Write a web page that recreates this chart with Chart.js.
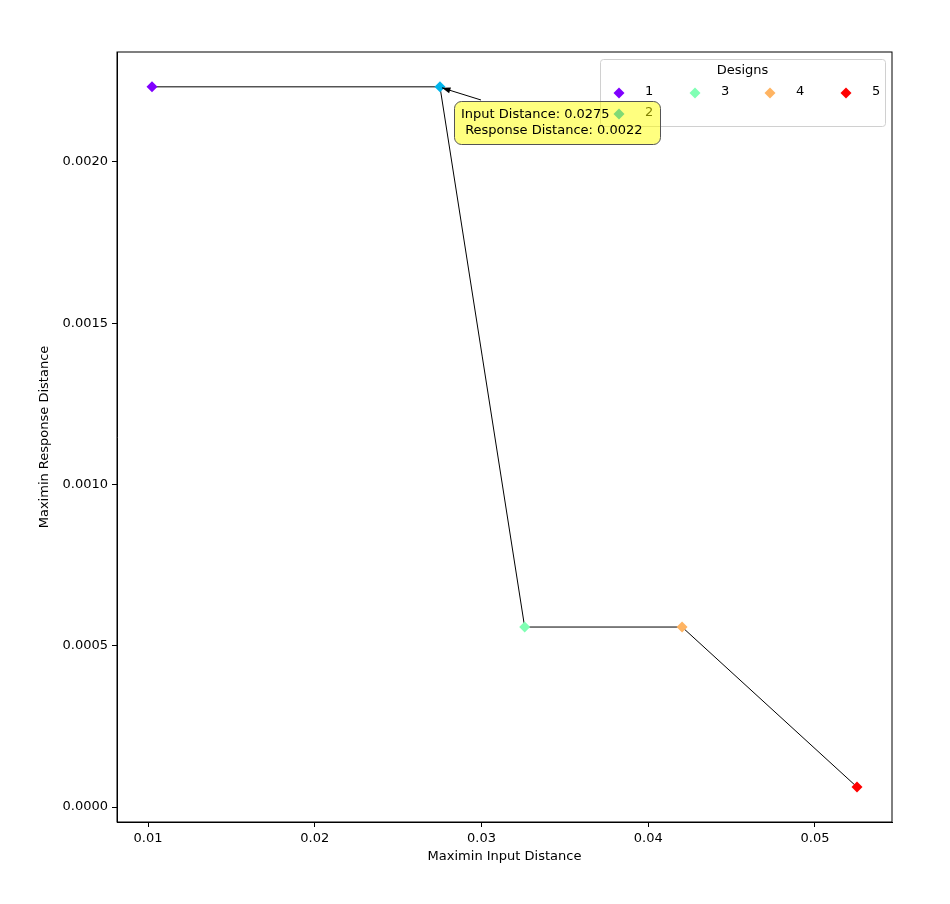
<!DOCTYPE html>
<html>
<head>
<meta charset="utf-8">
<script src="https://cdn.jsdelivr.net/npm/chart.js@4/dist/chart.umd.min.js"></script>
<style>
  body { margin: 0; background: #fff; }
  #wrap { width: 950px; height: 904px; }
</style>
</head>
<body>
<div id="wrap"><canvas id="chart" width="950" height="904"></canvas></div>
<script>
const designs = ['1', '2', '3', '4', '5'];
const inputDist = [0.01024, 0.02751, 0.03259, 0.04203, 0.05252];
const responseDist = [0.002233, 0.002233, 0.000558, 0.000558, 0.000062];
const colors = ['#8000ff', '#00b4eb', '#80ffb4', '#ffb462', '#ff0000'];
const xTicks = [0.01, 0.02, 0.03, 0.04, 0.05];
const yTicks = [0, 0.0005, 0.001, 0.0015, 0.002];
const xTitle = 'Maximin Input Distance';
const yTitle = 'Maximin Response Distance';
const highlight = 1;

const FONT = 'DejaVu Sans';
Chart.defaults.font.family = FONT;
Chart.defaults.font.size = 13;
Chart.defaults.color = '#000';

function diamond(ctx, x, y, r, fill) {
    ctx.beginPath();
    ctx.moveTo(x, y - r); ctx.lineTo(x + r, y); ctx.lineTo(x, y + r); ctx.lineTo(x - r, y);
    ctx.closePath();
    ctx.fillStyle = fill; ctx.fill();
}

// legend box (matplotlib style), axis titles and annotation for the picked point
const overlay = {
    id: 'overlay',
    afterDatasetsDraw(chart) {
        const ctx = chart.ctx;
        const xs = chart.scales.x, ys = chart.scales.y;
        const a = chart.chartArea;
        ctx.save();
        ctx.font = '13px ' + FONT;
        ctx.fillStyle = '#000';
        ctx.textAlign = 'center'; ctx.textBaseline = 'middle';
        // axis titles
        ctx.fillText(xTitle, (a.left + a.right) / 2, 857);
        ctx.save();
        ctx.translate(45, (a.top + a.bottom) / 2);
        ctx.rotate(-Math.PI / 2);
        ctx.fillText(yTitle, 0, 0);
        ctx.restore();
        // legend
        const lx = 600, ly = 59, lw = 285, lh = 67;
        ctx.fillStyle = 'rgba(255,255,255,0.8)';
        ctx.strokeStyle = '#d0d0d0';
        ctx.lineWidth = 1;
        ctx.beginPath(); ctx.roundRect(lx + 0.5, ly + 0.5, lw, lh, 3); ctx.fill(); ctx.stroke();
        ctx.fillStyle = '#000';
        ctx.fillText('Designs', lx + lw / 2, ly + 12);
        const cols = [[0, 1], [2], [3], [4]];
        const colX = [619, 695, 770, 846];
        cols.forEach((items, c) => {
            items.forEach((i, r) => {
                const y = 93 + r * 21;
                diamond(ctx, colX[c], y, 5.5, colors[i]);
                ctx.fillStyle = '#000';
                ctx.textAlign = 'left';
                ctx.fillText(designs[i], colX[c] + 26, y - 1);
            });
        });
        // annotation
        const px = xs.getPixelForValue(inputDist[highlight]);
        const py = ys.getPixelForValue(responseDist[highlight]);
        const bx = 454, by = 101, bw = 206, bh = 43;
        ctx.strokeStyle = '#000'; ctx.lineWidth = 1;
        ctx.beginPath(); ctx.moveTo(481, 100); ctx.lineTo(px + 2, py + 1); ctx.stroke();
        const ang = Math.atan2(py + 1 - 100, px + 2 - 481);
        ctx.beginPath();
        ctx.moveTo(px + 2, py + 1);
        ctx.lineTo(px + 2 - 9 * Math.cos(ang - 0.35), py + 1 - 9 * Math.sin(ang - 0.35));
        ctx.lineTo(px + 2 - 9 * Math.cos(ang + 0.35), py + 1 - 9 * Math.sin(ang + 0.35));
        ctx.closePath(); ctx.fillStyle = '#000'; ctx.fill();
        ctx.fillStyle = 'rgba(255,255,0,0.5)';
        ctx.strokeStyle = '#555';
        ctx.beginPath(); ctx.roundRect(bx + 0.5, by + 0.5, bw, bh, 7); ctx.fill(); ctx.stroke();
        ctx.fillStyle = '#000'; ctx.textAlign = 'left';
        ctx.fillText('Input Distance: ' + inputDist[highlight].toFixed(4).replace(/0+$/, ''), bx + 7, by + 14);
        ctx.fillText(' Response Distance: ' + responseDist[highlight].toFixed(4), bx + 7, by + 30);
        ctx.restore();
    }
};

new Chart(document.getElementById('chart'), {
    type: 'scatter',
    data: {
        datasets: [{
            data: inputDist.map((x, i) => ({ x, y: responseDist[i] })),
            showLine: true,
            borderColor: '#000',
            borderWidth: 1,
            pointStyle: 'rectRot',
            pointRadius: 5.5,
            pointHoverRadius: 5.5,
            pointBorderWidth: 0,
            pointBackgroundColor: colors
        }]
    },
    options: {
        responsive: false,
        animation: false,
        events: [],
        layout: { padding: { top: 52, right: 58, left: 0, bottom: 0 } },
        plugins: { legend: { display: false }, tooltip: { enabled: false } },
        scales: {
            x: {
                min: 0.00814, max: 0.05462,
                afterBuildTicks: s => { s.ticks = xTicks.map(v => ({ value: v })); },
                afterFit: s => { s.height = 82; },
                ticks: { callback: v => v.toFixed(2), padding: 4, maxRotation: 0 },
                grid: { drawOnChartArea: false, tickLength: 5, color: '#000' },
                border: { color: '#000' }
            },
            y: {
                min: -0.0000465, max: 0.002341,
                afterBuildTicks: s => { s.ticks = yTicks.map(v => ({ value: v })); },
                afterFit: s => { s.width = 117; },
                ticks: { callback: v => v.toFixed(4), padding: 4 },
                grid: { drawOnChartArea: false, tickLength: 5, color: '#000' },
                border: { color: '#000' }
            }
        }
    },
    plugins: [overlay, {
        id: 'frame',
        afterDraw(chart) {
            const a = chart.chartArea, ctx = chart.ctx;
            ctx.save(); ctx.strokeStyle = '#000'; ctx.lineWidth = 1;
            ctx.strokeRect(a.left, a.top, a.right - a.left, a.bottom - a.top);
            ctx.restore();
        }
    }]
});
</script>
</body>
</html>
